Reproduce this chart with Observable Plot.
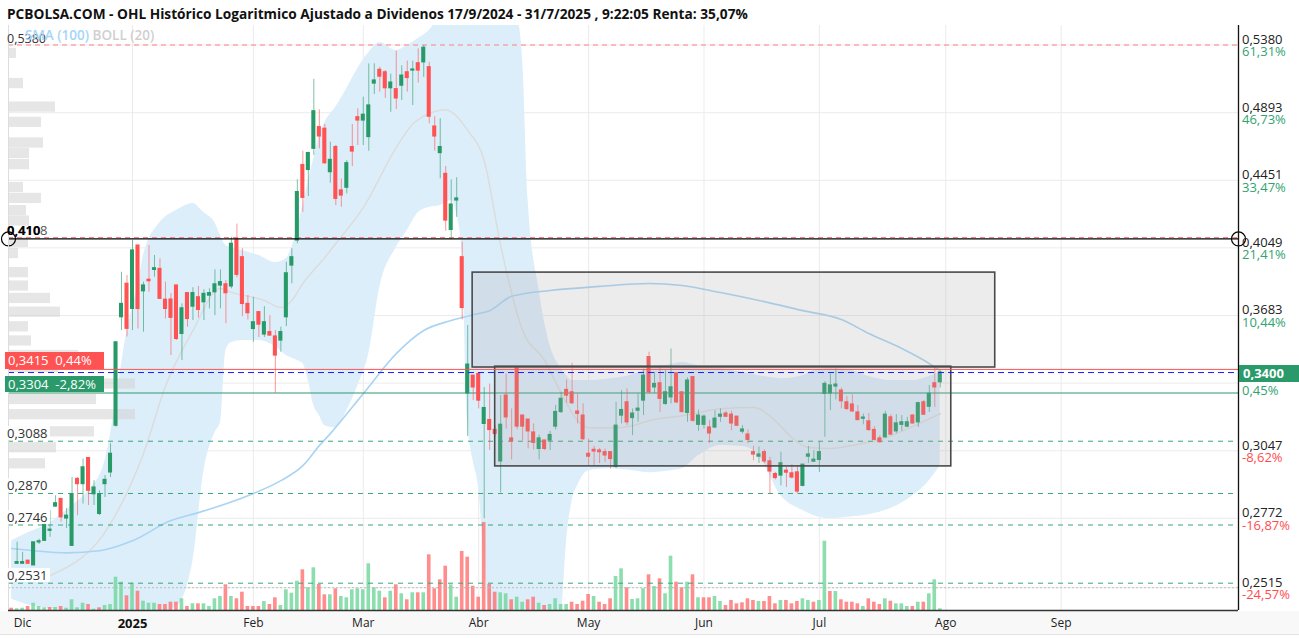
<!DOCTYPE html>
<html><head><meta charset="utf-8">
<script src="https://cdn.jsdelivr.net/npm/d3@7"></script>
<script src="https://cdn.jsdelivr.net/npm/@observablehq/plot@0.6"></script>
<style>
body{margin:0;background:#fff;font-family:"Open Sans",sans-serif;}
#wrap{position:relative;width:1299px;height:638px;overflow:hidden;background:#fff;}
.lab{position:absolute;white-space:nowrap;font-size:13px;line-height:16px;}
#title{position:absolute;left:7px;top:4px;font-weight:700;font-size:13.7px;color:#111;white-space:nowrap;}
#axisbg{position:absolute;left:0;top:611px;width:1299px;height:23px;background:#f8f8f8;border-bottom:1px solid #e2e2e2;}
</style></head><body>
<div id="wrap">
<div id="axisbg"></div>
<div id="title">PCBOLSA.COM - OHL Histórico Logaritmico Ajustado a Dividenos 17/9/2024 - 31/7/2025 , 9:22:05 Renta: 35,07%</div>
</div>
<script>
// ---- OHLC + volume, rows: [open, high, low, close, volume] (one row per trading day) ----
const nov = [[.2560,.2570,.2548,.2555,230],[.2601,.2681,.2599,.2607,170]];
const dec = [
[.2601,.2643,.2600,.2607,230],[.2612,.2612,.2599,.2601,400],[.2595,.2680,.2595,.2680,730],[.2680,.2692,.2672,.2684,400],
[.2686,.2755,.2683,.2749,270],[.2724,.2802,.2699,.2728,300],[.2818,.2861,.2815,.2831,300],[.2848,.2848,.2757,.2776,400],
[.2771,.2810,.2732,.2782,230],[.2667,.2935,.2667,.2867,1070],[.2929,.2935,.2782,.2908,270],[.2908,.3012,.2828,.2977,730],
[.3016,.3016,.2822,.2881,600],[.2867,.2922,.2822,.2894,130],[.2789,.2881,.2782,.2867,270],[.2908,.2943,.2854,.2925,500],
[.2956,.3077,.2935,.3034,600],[.3156,.3547,.3149,.3547,3330],[.3674,.3913,.3606,.3743,2830],[.3850,.3895,.3574,.3615,1470]];
const jan = [
[.3717,.4091,.3606,.4034,2730],[.4062,.4062,.3614,.3717,1930],[.3810,.3859,.3598,.3841,930],[.3872,.4062,.3805,.3864,730],
[.3926,.4006,.3886,.3935,730],[.3931,.3987,.3770,.3770,600],[.3765,.3859,.3665,.3717,600],[.3766,.3798,.3482,.3671,830],
[.3841,.3841,.3556,.3564,830],[.3589,.3743,.3458,.3720,1170],[.3800,.3800,.3623,.3665,400],[.3729,.3829,.3657,.3800,670],
[.3778,.3836,.3670,.3712,670],[.3752,.3818,.3657,.3796,670],[.3787,.3823,.3717,.3800,400],[.3805,.3926,.3682,.3847,1170],
[.3841,.3926,.3717,.3859,1400],[.3847,.3868,.3640,.3800,2570],[.3836,.4110,.3823,.4072,1400],[.4095,.4186,.3883,.3899,1170],
[.3996,.4044,.3677,.3743,1830],[.3743,.3787,.3660,.3695,400]];
const feb = [
[.3614,.3778,.3547,.3648,400],[.3700,.3700,.3571,.3636,400],[.3586,.3729,.3571,.3648,900],[.3598,.3682,.3576,.3581,600],
[.3576,.3606,.3302,.3482,1270],[.3556,.3623,.3498,.3598,500],[.3674,.3968,.3626,.3907,2070],[.3950,.4044,.3850,.3996,1730],
[.4091,.4454,.4072,.4378,2930],[.4547,.4636,.4256,.4343,4070],[.4516,.4630,.4351,.4624,2270],[.4652,.5127,.4609,.4903,4270],
[.4795,.4913,.4652,.4733,2600],[.4784,.4813,.4551,.4559,1570],[.4502,.4695,.4433,.4580,1570],[.4663,.4674,.4296,.4337,2170],
[.4388,.4460,.4286,.4357,1400],[.4405,.4576,.4367,.4559,1270],[.4663,.4813,.4537,.4634,2070],[.4862,.4920,.4673,.4840,2170]];
const mar = [
[.4840,.5001,.4673,.4879,2070],[.4729,.5240,.4636,.4943,4670],[.5097,.5240,.5020,.5119,2270],[.5196,.5215,.5036,.5147,1930],
[.5178,.5191,.4992,.5064,1270],[.5064,.5165,.4896,.5104,1930],[.5057,.5333,.4915,.4992,2570],[.5082,.5226,.4978,.5154,1670],
[.5178,.5260,.5036,.5137,1070],[.5191,.5260,.4943,.5198,1770],[.5244,.5351,.5100,.5191,1770],[.5251,.5376,.5142,.5359,1770],
[.5215,.5251,.4818,.4866,5570],[.4799,.4866,.4636,.4733,2170],[.4624,.4851,.4460,.4663,3070],[.4491,.4538,.4144,.4207,4430],
[.4152,.4454,.4095,.4302,2570],[.4327,.4467,.4226,.4339,1330],[.3996,.4081,.3660,.3722,5900],[.3302,.3631,.3108,.3438,5330],
[.3385,.3385,.3269,.3330,2430]];
const apr = [
[.3393,.3393,.3231,.3269,1330],[.3164,.3330,.2770,.3235,8800],[.3181,.3346,.3048,.3137,2600],[.3137,.3156,.3108,.3120,1830],
[.3002,.3292,.2873,.3160,1770],[.3292,.3393,.3141,.3193,1670],[.3100,.3231,.3008,.3088,1070],[.3425,.3425,.3137,.3152,1330],
[.3201,.3201,.3091,.3152,830],[.3183,.3183,.3055,.3131,1070],[.3126,.3164,.3051,.3081,1330],[.3055,.3115,.3008,.3100,730],
[.3091,.3091,.3048,.3055,500],[.3091,.3131,.3048,.3115,600],[.3152,.3247,.3137,.3217,1170],[.3217,.3307,.3210,.3277,600],
[.3318,.3365,.3257,.3292,600],[.3307,.3444,.3251,.3257,830],[.3219,.3300,.3164,.3209,600],[.3201,.3254,.3091,.3097,930]];
const may = [
[.3034,.3098,.2984,.3022,1600],[.3051,.3066,.2984,.3044,1400],[.3048,.3057,.2993,.3041,830],[.3041,.3055,.2998,.3027,600],
[.3041,.3041,.2970,.3012,1170],[.2980,.3261,.2971,.3156,3400],[.3201,.3315,.3164,.3226,4170],[.3261,.3323,.3156,.3171,2270],
[.3190,.3231,.3113,.3210,1100],[.3223,.3300,.3171,.3232,1170],[.3269,.3417,.3201,.3385,2170],[.3474,.3498,.3300,.3307,3570],
[.3330,.3401,.3300,.3346,2400],[.3349,.3433,.3215,.3277,3170],[.3254,.3409,.3247,.3307,1670],[.3284,.3514,.3254,.3330,5430],
[.3396,.3396,.3254,.3261,2830],[.3307,.3307,.3213,.3217,2270],[.3213,.3375,.3171,.3362,2830],[.3378,.3378,.3171,.3178,3570],
[.3160,.3226,.3131,.3201,1270]];
const jun = [
[.3160,.3205,.3141,.3196,1270],[.3148,.3178,.3079,.3122,1270],[.3148,.3223,.3143,.3187,1400],[.3196,.3231,.3171,.3205,900],
[.3210,.3220,.3193,.3196,500],[.3205,.3220,.3134,.3166,1000],[.3196,.3196,.3152,.3156,670],[.3130,.3156,.3120,.3139,770],
[.3117,.3137,.3077,.3094,1170],[.3041,.3066,.3005,.3031,1000],[.3022,.3063,.2993,.3031,900],[.3041,.3051,.2993,.3002,900],
[.3002,.3019,.2867,.2960,1400],[.2949,.2956,.2925,.2933,670],[.2943,.3041,.2901,.2994,1000],[.2963,.2977,.2894,.2955,1000],
[.2952,.2988,.2929,.2935,670],[.2956,.2984,.2867,.2878,900],[.2901,.2988,.2897,.2988,1170],[.3022,.3066,.2993,.3031,1000],
[.3001,.3048,.2998,.3009,830]];
const jul = [
[.3008,.3084,.2956,.3041,1000],[.3300,.3357,.3105,.3346,6930],[.3302,.3393,.3223,.3339,1900],[.3334,.3417,.3272,.3343,1900],
[.3315,.3327,.3231,.3266,1070],[.3261,.3287,.3223,.3231,830],[.3251,.3296,.3215,.3220,830],[.3215,.3247,.3178,.3181,670],
[.3187,.3208,.3160,.3192,400],[.3175,.3210,.3131,.3137,1170],[.3137,.3152,.3091,.3094,830],[.3100,.3112,.3079,.3084,600],
[.3105,.3220,.3102,.3205,1170],[.3193,.3205,.3113,.3117,930],[.3131,.3205,.3120,.3166,670],[.3160,.3201,.3131,.3171,670],
[.3152,.3193,.3147,.3171,400],[.3201,.3205,.3164,.3166,400],[.3171,.3261,.3148,.3257,830],[.3261,.3269,.3201,.3205,830],
[.3241,.3339,.3215,.3300,1670],[.3349,.3422,.3238,.3330,3070],[.3354,.3405,.3327,.3400,170]];

// Bollinger(20) band: [day index, lower, upper]
const boll = [
[-2,.2476,.2686],[1,.2455,.2716],[5,.2442,.2755],[9,.2435,.2822],[12,.2428,.2881],[15,.2428,.3005],[17,.2428,.3269],
[19,.2428,.3606],[21,.2428,.3841],[22,.2428,.4006],[25,.2428,.4195],[28,.2449,.4266],[31,.2612,.4308],[33,.2963,.4253],
[35,.3125,.4195],[36,.3169,.4119],[37,.3506,.4062],[38,.3546,.4051],[40,.3556,.4034],[43,.3556,.4006],[46,.3526,.3967],
[48,.3482,.3989],[50,.3458,.4160],[51,.3443,.4296],[52,.3362,.4450],[53,.3246,.4589],[54,.3201,.4740],[55,.3156,.4827],
[57,.3147,.4932],[59,.3223,.5062],[61,.3338,.5206],[63,.3491,.5324],[65,.3830,.5399],[68,.4051,.5339],[70,.4148,.5376],
[72,.4253,.5429],[74,.4284,.5490],[76,.4296,.5605],[78,.4327,.5685],[79,.4248,.5726],[80,.4017,.5766],[81,.3178,.5807],
[82,.3005,.5807],[83,.2893,.5807],[84,.2612,.5807],[85,.2428,.5807],[88,.2428,.5766],[90,.2428,.5607],[91,.2428,.5265],
[92,.2428,.4327],[94,.2428,.3814],[96,.2428,.3531],[98,.2428,.3419],[99,.2686,.3385],[100,.2841,.3362],[101,.2901,.3362],
[103,.2963,.3362],[107,.2971,.3371],[111,.2963,.3390],[114,.2955,.3419],[118,.2963,.3438],[120,.2971,.3448],[123,.3026,.3433],
[127,.3070,.3419],[131,.3065,.3400],[134,.3026,.3385],[138,.2861,.3371],[142,.2802,.3385],[144,.2782,.3409],[147,.2771,.3419],
[151,.2778,.3409],[154,.2786,.3381],[158,.2810,.3362],[162,.2861,.3362],[165,.2922,.3381],[167,.2984,.3400]];
// SMA(20) middle line
const sma20 = [[5,.2558],[16,.2751],[22,.3035],[26,.3335],[31,.3606],[36,.3825],[38,.3804],[44,.3761],[47,.3724],[49,.3761],
[51,.3852],[55,.3995],[57,.4074],[62,.4284],[68,.4660],[71,.4816],[73,.4869],[77,.4914],[79,.4869],[81,.4773],[84,.4576],
[87,.4062],[91,.3606],[95,.3458],[98,.3304],[101,.3178],[103,.3147],[108,.3147],[111,.3156],[114,.3178],[120,.3200],
[123,.3214],[127,.3232],[133,.3237],[137,.3178],[140,.3103],[143,.3061],[147,.3057],[151,.3070],[157,.3103],[163,.3164],[167,.3209]];
// SMA(100)
const sma100 = [[-2,.2657],[2,.2649],[8,.2641],[14,.2649],[20,.2686],[27,.2763],[32,.2794],[41,.2861],[47,.2922],[51,.2984],
[54,.3069],[56,.3121],[62,.3301],[68,.3491],[73,.3606],[78,.3657],[83,.3693],[85,.3708],[89,.3783],[96,.3814],[105,.3836],
[114,.3852],[120,.3841],[127,.3803],[134,.3761],[142,.3708],[149,.3662],[154,.3591],[160,.3516],[165,.3443],[167,.3409]];
// left volume profile: [bin price, volume]
const profile = [[.5317,8],[.5097,15],[.4932,47],[.4827,33],[.4690,35],[.4621,21],[.4550,21],[.4406,15],[.4339,33],[.4266,18],
[.4204,21],[.4080,20],[.4017,10],[.3911,20],[.3838,20],[.3772,42],[.3700,52],[.3625,20],[.3554,23],[.3482,70],[.3424,50],
[.3346,127],[.3274,88],[.3205,127],[.3129,86],[.3060,48],[.2992,37]];
// right price axis
const rightTicks = [0.5380,0.4893,0.4451,0.4049,0.3683,0.3350,0.3047,0.2772,0.2515];
const rightTickLabels = ["0,5380","0,4893","0,4451","0,4049","0,3683","","0,3047","0,2772","0,2515"];
const rightPct = ["61,31%","46,73%","33,47%","21,41%","10,44%","0,45%","-8,62%","-16,87%","-24,57%"];
// month ticks (trading-day index of first session)
const monthIdx = [0,20,42,62,83,103,124,145,168,189];
const monthLab = ["Dic","2025","Feb","Mar","Abr","May","Jun","Jul","Ago","Sep"];
// horizontal levels
const supportLevels = [0.3088,0.2870,0.2746,0.2531];
const supportLabels = ["0,3088","0,2870","0,2746","0,2531"];
const maxLevel = 0.5380, maxLevel2 = 0.4108, blackLevel = 0.410;
const redLevel = 0.3415, lastPrice = 0.3400, greenLevel = 0.3304, floorLevel = 0.2515;
// rectangles: [start idx, end idx, low, high]
const boxes = [[81.9,177.0,0.3424,0.3911],[86.0,169.0,0.2981,0.3428]];

// ---------- build ----------
const rows = [nov,dec,jan,feb,mar,apr,may,jun,jul].flat();
const candles = rows.map((r,k)=>({i:k-2,o:r[0],h:r[1],l:r[2],c:r[3],v:r[4]}));
candles.forEach((d,k)=>{d.up=d.c>=d.o; d.vup = k===0 ? d.up : d.c>=candles[k-1].c;});
const band = boll.map(r=>({i:r[0],lo:r[1],hi:r[2]}));
const s20 = sma20.map(r=>({i:r[0],p:r[1]}));
const s100 = sma100.map(r=>({i:r[0],p:r[1]}));

const W=1299,H=613;
const M={marginTop:0,marginBottom:28,marginLeft:8,marginRight:61};
const xDom=[-2.566,221.27], yDom=[0.2436,0.5529];
const base = {width:W,height:H,...M,style:{background:"transparent",fontFamily:"Open Sans",fontSize:"12px"}};
const xS={domain:xDom,axis:null}, yS={type:"log",domain:yDom,axis:null};
const GREEN="#279a68", RED="#ff5252";

const wrap=document.getElementById("wrap");
function add(svg){svg.style.position="absolute";svg.style.left="0px";svg.style.top="25px";wrap.appendChild(svg);return svg;}

// layer 1: grid, bollinger, averages
add(Plot.plot({...base,x:xS,y:yS,marks:[
  Plot.ruleY(rightTicks,{stroke:"#ebebeb"}),
  Plot.ruleX(monthIdx.slice(1),{stroke:"#ebebeb"}),
  Plot.areaY(band,{x:"i",y1:"lo",y2:"hi",fill:"#ddeefb",curve:"monotone-x",clip:true}),
  Plot.line(s20,{x:"i",y:"p",stroke:"#dcdcdc",strokeWidth:1.5,curve:"monotone-x"}),
  Plot.line(s100,{x:"i",y:"p",stroke:"#a9d4f4",strokeWidth:1.6,curve:"monotone-x"})
]}));

// layer 2: volume profile
add(Plot.plot({...base,x:{domain:[0,1230],axis:null},y:yS,marks:[
  Plot.rect(profile,{x1:0,x2:d=>d[1],y1:d=>d[0]/1.0072,y2:d=>d[0]*1.0072,fill:"#d2d2d2",fillOpacity:0.55})
]}));

// layer 3: volume
add(Plot.plot({...base,x:xS,y:{domain:[0,58500],axis:null},marks:[
  Plot.rect(candles,{filter:d=>d.vup,x1:d=>d.i-0.33,x2:d=>d.i+0.33,y1:0,y2:"v",fill:"#6fd69a",fillOpacity:0.8}),
  Plot.rect(candles,{filter:d=>!d.vup,x1:d=>d.i-0.33,x2:d=>d.i+0.33,y1:0,y2:"v",fill:"#ff7070",fillOpacity:0.8})
]}));

// layer 4: levels, candles, boxes, axes
const mainPlot = add(Plot.plot({...base,x:xS,y:yS,marks:[
  Plot.ruleY([maxLevel,maxLevel2],{stroke:"#ff8080",strokeDasharray:"5,4"}),
  Plot.ruleY(supportLevels,{stroke:"#3aa67a",strokeDasharray:"5,5"}),
  Plot.ruleY([floorLevel],{stroke:"#bbb",strokeDasharray:"2,2"}),
  Plot.ruleY([greenLevel],{stroke:"#2e9a6c",strokeWidth:1.2}),
  Plot.ruleX(candles,{filter:d=>d.up,x:"i",y1:"l",y2:"h",stroke:GREEN,strokeOpacity:0.6}),
  Plot.ruleX(candles,{filter:d=>!d.up,x:"i",y1:"l",y2:"h",stroke:RED,strokeOpacity:0.6}),
  Plot.rect(candles,{filter:d=>d.up,x1:d=>d.i-0.37,x2:d=>d.i+0.37,y1:"o",y2:"c",fill:GREEN,insetTop:-0.6,insetBottom:-0.6}),
  Plot.rect(candles,{filter:d=>!d.up,x1:d=>d.i-0.37,x2:d=>d.i+0.37,y1:"c",y2:"o",fill:RED,insetTop:-0.6,insetBottom:-0.6}),
  Plot.rect(boxes,{x1:d=>d[0],x2:d=>d[1],y1:d=>d[2],y2:d=>d[3],fill:"#a8a8a8",fillOpacity:0.22,stroke:"#4a4a4a",strokeWidth:1.6}),
  Plot.ruleY([redLevel],{stroke:RED}),
  Plot.ruleY([lastPrice],{stroke:"#1a1aff",strokeDasharray:"6,4"}),
  Plot.ruleY([blackLevel],{stroke:"#000",strokeWidth:1.4}),
  Plot.dot([xDom[0],xDom[1]],{x:d=>d,y:()=>blackLevel,r:7,stroke:"#000",fill:"none",strokeWidth:1.2}),
  Plot.ruleX([xDom[1]],{stroke:"#111",strokeWidth:1.3}),
  Plot.ruleX([xDom[0]],{stroke:"#ddd"}),
  Plot.ruleY([yDom[0]],{stroke:"#333",strokeWidth:1.3}),
  Plot.text(monthIdx.map((d,k)=>({i:d,t:monthLab[k]})).filter(d=>d.t!=="2025"),{x:"i",y:()=>yDom[0],text:"t",dy:13,fontSize:12,fill:"#222"}),
  Plot.text(monthIdx.map((d,k)=>({i:d,t:monthLab[k]})).filter(d=>d.t==="2025"),{x:"i",y:()=>yDom[0],text:"t",dy:13,fontSize:13,fontWeight:"bold",fill:"#111"})
]}));

// HTML labels positioned through the plot's scales
const ys = mainPlot.scale("y");
const Y = p => ys.apply(p)+25;
function lab(html,left,cy,css,lh){lh=lh||16;const d=document.createElement("div");d.className="lab";d.innerHTML=html;d.style.left=left+"px";d.style.top=(cy-lh/2)+"px";d.style.lineHeight=lh+"px";Object.assign(d.style,css||{});wrap.appendChild(d);return d;}

// right axis: price over percentage, one block per tick
rightTicks.forEach((p,k)=>{
  const neg = rightPct[k].startsWith("-");
  const priceLine = rightTickLabels[k] ? `<span style="color:#222">${rightTickLabels[k]}</span>` : "&nbsp;";
  const d = lab(`${priceLine}<br><span style="color:${neg?"#ff4d4d":"#31a370"}">${rightPct[k]}</span>`,1242,Y(p)+1,{},12.5);
  d.style.top=(Y(p)-11.5)+"px";
});
lab("0,3400",1239,Y(lastPrice)+1,{background:"#2b9a6b",color:"#fff",fontWeight:"700",width:"56px",paddingLeft:"4px",height:"17px"},17);

lab("0,5380",7,Y(maxLevel)-5,{color:"#333",fontSize:"12.5px"},12);
lab('<span style="color:#a5d6f7">SMA (100)</span> <span style="color:#d0d0d0">BOLL (20)</span>',25,35,{fontWeight:"600",fontSize:"13.5px"},12);
lab("0,4108",7,Y(blackLevel)-8,{color:"#555",fontSize:"13px"},12);
lab("0,410",7,Y(blackLevel)-8,{color:"#000",fontWeight:"700",fontSize:"13px"},12);
lab("0,3415&nbsp;&nbsp;0,44%",5,Y(redLevel)-8.5,{background:RED,color:"#fff",width:"96px",paddingLeft:"3px",height:"17px"},17);
lab("0,3304&nbsp;&nbsp;-2,82%",5,Y(greenLevel)-8,{background:"#2b9a6b",color:"#fff",width:"96px",paddingLeft:"3px",height:"16px"},16);
supportLevels.forEach((p,k)=>lab(supportLabels[k],5,Y(p)-8,{background:"rgba(255,255,255,0.9)",color:"#333",padding:"0 2px"},14));
</script>
</body></html>
